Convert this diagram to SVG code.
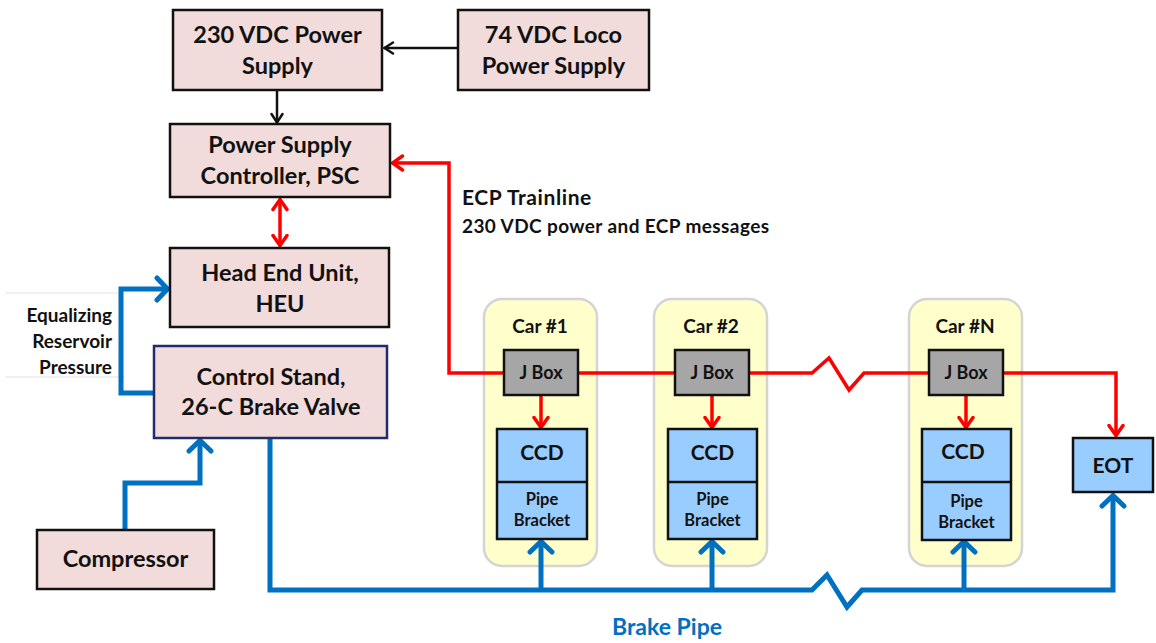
<svg xmlns="http://www.w3.org/2000/svg" width="1156" height="643" viewBox="0 0 1156 643">
<style>
text{font-family:Lato,"Liberation Sans",Arial,sans-serif;font-weight:bold;fill:#111;text-anchor:middle}
.box{fill:#F2DCDB;stroke:#111;stroke-width:2.5}
.car{fill:#FFFFCC;stroke:#D4D4D4;stroke-width:2.5}
.jbox{fill:#A6A6A6;stroke:#111;stroke-width:2.5}
.ccd{fill:#99CCFF;stroke:#111;stroke-width:2.5}
.big{font-size:23.5px}
.blk{stroke:#111;stroke-width:2.5;fill:none}
.red{stroke:#FF0000;stroke-width:3.5;fill:none;stroke-linejoin:miter}
.blue{stroke:#0070C0;stroke-width:5;fill:none;stroke-linejoin:miter}
.faint{stroke:#E2E2E2;stroke-width:1}
.eq{font-size:19px;text-anchor:end}
.pb{font-size:16.5px}
</style>
<defs>
<marker id="ak" viewBox="0 0 12 14" refX="11" refY="7" markerWidth="12" markerHeight="14" orient="auto" markerUnits="userSpaceOnUse"><path d="M2,1.5 L10.5,7 L2,12.5" fill="none" stroke="#111" stroke-width="2.5" stroke-linecap="round"/></marker>
<marker id="ar" viewBox="0 0 14 18" refX="12.5" refY="9" markerWidth="14" markerHeight="18" orient="auto-start-reverse" markerUnits="userSpaceOnUse"><path d="M2,2 L12,9 L2,16" fill="none" stroke="#FF0000" stroke-width="3.5" stroke-linecap="round"/></marker>
<marker id="ab" viewBox="0 0 16 28" refX="14" refY="14" markerWidth="16" markerHeight="28" orient="auto" markerUnits="userSpaceOnUse"><path d="M3,3 L13.5,14 L3,25" fill="none" stroke="#0070C0" stroke-width="5" stroke-linecap="round"/></marker>
</defs>

<g id="eq-label">
<line class="faint" x1="5" y1="293" x2="120" y2="293"/>
<line class="faint" x1="5" y1="377" x2="125" y2="377"/>
<text class="eq" x="112" y="322">Equalizing</text>
<text class="eq" x="112" y="348">Reservoir</text>
<text class="eq" x="112" y="374">Pressure</text>
</g>

<g id="car1">
<rect class="car" x="484" y="299" width="113" height="267" rx="18"/>
<text x="540" y="333" style="font-size:19px">Car #1</text>
</g>
<g id="car2">
<rect class="car" x="654" y="299" width="113" height="267" rx="18"/>
<text x="711" y="333" style="font-size:19px">Car #2</text>
</g>
<g id="carN">
<rect class="car" x="909" y="299" width="113" height="267" rx="18"/>
<text x="965" y="333" style="font-size:19px">Car #N</text>
</g>

<g id="connectors">
<line class="blk" x1="458" y1="48" x2="384" y2="48" marker-end="url(#ak)"/>
<line class="blk" x1="277" y1="90" x2="277" y2="123" marker-end="url(#ak)"/>
<line class="red" x1="280" y1="199" x2="280" y2="246" marker-start="url(#ar)" marker-end="url(#ar)"/>
<path class="red" d="M504,373 H449 V163 H392" marker-end="url(#ar)"/>
<path class="red" d="M578,373 H675"/>
<path class="red" d="M749,373 H812 L829,358 L849,390 L864,373 H929"/>
<path class="red" d="M1003,373 H1116 V436" marker-end="url(#ar)"/>
<line class="red" x1="541" y1="395" x2="541" y2="428" marker-end="url(#ar)"/>
<line class="red" x1="712" y1="395" x2="712" y2="428" marker-end="url(#ar)"/>
<line class="red" x1="966" y1="395" x2="966" y2="428" marker-end="url(#ar)"/>
<path class="blue" d="M154,393 H121 V289 H168" marker-end="url(#ab)"/>
<path class="blue" d="M125,530 V483 H200 V440" marker-end="url(#ab)"/>
<path class="blue" d="M270,438 V590 H812 L827,575 L847,607 L862,590 H1113 V495" marker-end="url(#ab)"/>
<line class="blue" x1="541" y1="590" x2="541" y2="541" marker-end="url(#ab)"/>
<line class="blue" x1="712" y1="590" x2="712" y2="541" marker-end="url(#ab)"/>
<line class="blue" x1="964" y1="590" x2="964" y2="541" marker-end="url(#ab)"/>
</g>

<g id="ps230">
<rect class="box" x="173" y="10" width="209" height="80"/>
<text class="big" x="277.5" y="43">230 VDC Power</text>
<text class="big" x="277.5" y="74">Supply</text>
</g>
<g id="loco74">
<rect class="box" x="458" y="10" width="191" height="80"/>
<text class="big" x="553.5" y="43">74 VDC Loco</text>
<text class="big" x="553.5" y="74">Power Supply</text>
</g>
<g id="psc">
<rect class="box" x="170" y="124" width="220" height="73"/>
<text class="big" x="280" y="153">Power Supply</text>
<text class="big" x="280" y="184">Controller, PSC</text>
</g>
<g id="heu">
<rect class="box" x="170" y="248" width="219" height="79"/>
<text class="big" x="280" y="281">Head End Unit,</text>
<text class="big" x="280" y="312">HEU</text>
</g>
<g id="control-stand">
<rect class="box" x="154" y="346" width="233" height="92" style="stroke:#1F2D6B"/>
<text class="big" x="271" y="385">Control Stand,</text>
<text class="big" x="271" y="415">26-C Brake Valve</text>
</g>
<g id="compressor">
<rect class="box" x="37" y="530" width="177" height="59"/>
<text class="big" x="125.5" y="567">Compressor</text>
</g>

<g id="jbox1"><rect class="jbox" x="504" y="350" width="74" height="45"/><text x="541" y="379" style="font-size:18px">J Box</text></g>
<g id="jbox2"><rect class="jbox" x="675" y="350" width="74" height="45"/><text x="712" y="379" style="font-size:18px">J Box</text></g>
<g id="jboxN"><rect class="jbox" x="929" y="350" width="74" height="45"/><text x="966" y="379" style="font-size:18px">J Box</text></g>

<g id="ccd1">
<rect class="ccd" x="497" y="429" width="90" height="110"/>
<line x1="497" y1="482" x2="587" y2="482" stroke="#111" stroke-width="2.5"/>
<text x="542" y="460" style="font-size:21px">CCD</text>
<text class="pb" x="542" y="505">Pipe</text>
<text class="pb" x="542" y="526">Bracket</text>
</g>
<g id="ccd2">
<rect class="ccd" x="668" y="429" width="89" height="110"/>
<line x1="668" y1="482" x2="757" y2="482" stroke="#111" stroke-width="2.5"/>
<text x="712.5" y="460" style="font-size:21px">CCD</text>
<text class="pb" x="712.5" y="505">Pipe</text>
<text class="pb" x="712.5" y="526">Bracket</text>
</g>
<g id="ccdN">
<rect class="ccd" x="922" y="429" width="89" height="111"/>
<line x1="922" y1="482" x2="1011" y2="482" stroke="#111" stroke-width="2.5"/>
<text x="963" y="459" style="font-size:21px">CCD</text>
<text class="pb" x="966.5" y="507">Pipe</text>
<text class="pb" x="966.5" y="528">Bracket</text>
</g>
<g id="eot">
<rect class="ccd" x="1073" y="438" width="80" height="54"/>
<text x="1113" y="473" style="font-size:21px">EOT</text>
</g>

<g id="labels">
<text x="462" y="205" style="font-size:21px;letter-spacing:0.6px;text-anchor:start">ECP Trainline</text>
<text x="462" y="233" style="font-size:19px;letter-spacing:0.4px;text-anchor:start">230 VDC power and ECP messages</text>
<text x="667" y="635" style="font-size:23px;fill:#0070C0">Brake Pipe</text>
</g>
</svg>
